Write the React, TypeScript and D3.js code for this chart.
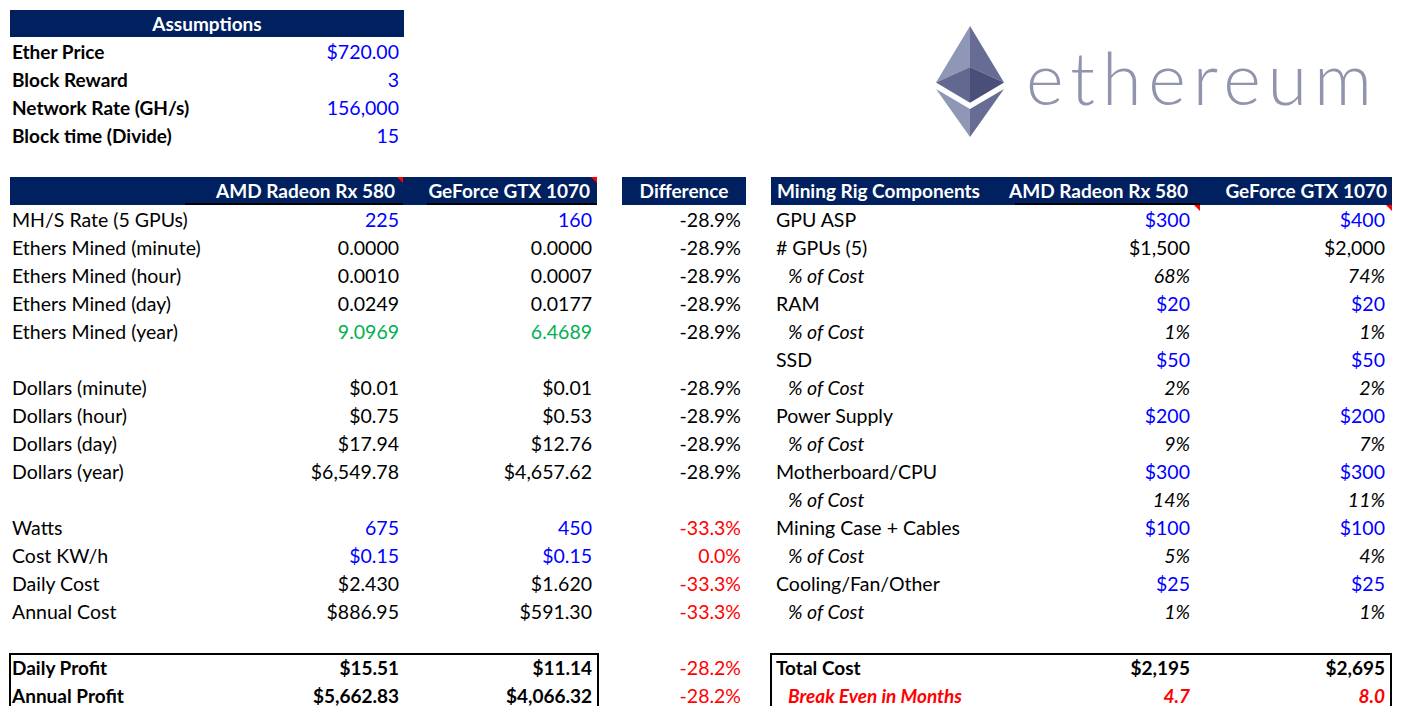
import React from "react";
import * as d3 from "d3";

const NAVY = "#002060";
const BLUE = "#0000FF";
const GREEN = "#00B050";
const RED = "#FF0000";
const BLACK = "#000000";
const WHITE = "#FFFFFF";

const assumptionLabels = ["Ether Price", "Block Reward", "Network Rate (GH/s)", "Block time (Divide)"];
const assumptionValues = ["$720.00", "3", "156,000", "15"];

const leftHeaders = ["AMD Radeon Rx 580", "GeForce GTX 1070"];
const leftLabels = [
  "MH/S Rate (5 GPUs)", "Ethers Mined (minute)", "Ethers Mined (hour)", "Ethers Mined (day)", "Ethers Mined (year)", "",
  "Dollars (minute)", "Dollars (hour)", "Dollars (day)", "Dollars (year)", "",
  "Watts", "Cost KW/h", "Daily Cost", "Annual Cost", "",
  "Daily Profit", "Annual Profit",
];
const amdValues = [
  "225", "0.0000", "0.0010", "0.0249", "9.0969", "",
  "$0.01", "$0.75", "$17.94", "$6,549.78", "",
  "675", "$0.15", "$2.430", "$886.95", "",
  "$15.51", "$5,662.83",
];
const gtxValues = [
  "160", "0.0000", "0.0007", "0.0177", "6.4689", "",
  "$0.01", "$0.53", "$12.76", "$4,657.62", "",
  "450", "$0.15", "$1.620", "$591.30", "",
  "$11.14", "$4,066.32",
];
const diffValues = [
  "-28.9%", "-28.9%", "-28.9%", "-28.9%", "-28.9%", "",
  "-28.9%", "-28.9%", "-28.9%", "-28.9%", "",
  "-33.3%", "0.0%", "-33.3%", "-33.3%", "",
  "-28.2%", "-28.2%",
];
// value kind per row: i = input (blue), o = output green, n = normal, b = bold
const leftKinds = ["i", "n", "n", "n", "o", "", "n", "n", "n", "n", "", "i", "i", "n", "n", "", "b", "b"];
const diffKinds = ["n", "n", "n", "n", "n", "", "n", "n", "n", "n", "", "r", "r", "r", "r", "", "r", "r"];

const rightHeaders = ["Mining Rig Components", "AMD Radeon Rx 580", "GeForce GTX 1070"];
const rightLabels = [
  "GPU ASP", "# GPUs (5)", "% of Cost", "RAM", "% of Cost", "SSD", "% of Cost",
  "Power Supply", "% of Cost", "Motherboard/CPU", "% of Cost", "Mining Case + Cables", "% of Cost",
  "Cooling/Fan/Other", "% of Cost", "", "Total Cost", "Break Even in Months",
];
const rightAmd = [
  "$300", "$1,500", "68%", "$20", "1%", "$50", "2%", "$200", "9%", "$300", "14%", "$100", "5%", "$25", "1%", "",
  "$2,195", "4.7",
];
const rightGtx = [
  "$400", "$2,000", "74%", "$20", "1%", "$50", "2%", "$200", "7%", "$300", "11%", "$100", "4%", "$25", "1%", "",
  "$2,695", "8.0",
];
// i = input blue, n = normal, p = italic pct, b = bold, e = break-even red bold italic
const rightKinds = ["i", "n", "p", "i", "p", "i", "p", "i", "p", "i", "p", "i", "p", "i", "p", "", "b", "e"];

const FONT = "Lato, 'Noto Sans', sans-serif";
const FS = 19.5;
const FSB = 19;

const rowY = d3.scaleLinear().domain([0, 1]).range([220, 248]);
const aY = d3.scaleLinear().domain([0, 1]).range([52, 80]);

function styleFor(kind: string) {
  switch (kind) {
    case "i": return { fill: BLUE, fontWeight: 400, fontStyle: "normal" };
    case "o": return { fill: GREEN, fontWeight: 400, fontStyle: "normal" };
    case "b": return { fill: BLACK, fontWeight: 700, fontStyle: "normal" };
    case "w": return { fill: WHITE, fontWeight: 700, fontStyle: "normal" };
    case "r": return { fill: RED, fontWeight: 400, fontStyle: "normal" };
    case "p": return { fill: BLACK, fontWeight: 400, fontStyle: "italic" };
    case "e": return { fill: RED, fontWeight: 700, fontStyle: "italic" };
    default: return { fill: BLACK, fontWeight: 400, fontStyle: "normal" };
  }
}

function Cell({ x, y, text, anchor = "start", kind = "n" }: any) {
  const s = styleFor(kind);
  const size = s.fontWeight === 700 ? FSB : FS;
  return (
    <text x={x} y={y} dy="0.38em" textAnchor={anchor} fill={s.fill} fontWeight={s.fontWeight}
      fontStyle={s.fontStyle} fontSize={size} fontFamily={FONT}>{text}</text>
  );
}

function Tri({ x, y }: any) {
  // small red comment marker at the top-right corner of a cell
  return <polygon points={`${x - 6},${y} ${x},${y} ${x},${y + 6}`} fill={RED} />;
}

function EthLogo() {
  const sx = d3.scaleLinear().domain([0, 256]).range([936, 1004]);
  const sy = d3.scaleLinear().domain([0, 417]).range([26, 137]);
  const polys: [number[][], string][] = [
    [[[128, 0], [0, 212], [128, 154]], "#8F97B6"],
    [[[128, 0], [256, 212], [128, 154]], "#666C93"],
    [[[0, 212], [128, 288], [128, 154]], "#62688F"],
    [[[256, 212], [128, 288], [128, 154]], "#4A4F7A"],
    [[[0, 237], [128, 417], [128, 312]], "#8F97B6"],
    [[[256, 237], [128, 417], [128, 312]], "#666C93"],
  ];
  return (
    <g>
      {polys.map(([pts, c], i) => (
        <polygon key={i} points={pts.map(([a, b]) => `${sx(a)},${sy(b)}`).join(" ")} fill={c} />
      ))}
      <text x={1026} y={105} fontFamily="Lato, 'Open Sans', sans-serif" fontWeight={300} fontSize={72}
        fill="#9094AD" textLength={346} lengthAdjust="spacing">ethereum</text>
    </g>
  );
}

export default function App() {
  const leftX = { label: 12, amd: 399, gtx: 592, diff: 741 };
  const rightX = { label: 776, indent: 788, amd: 1190, gtx: 1385 };
  return (
    <svg width={1401} height={706} style={{ position: "absolute", left: 0, top: 0, background: "#fff" }}>
      <rect x={0} y={0} width={1401} height={706} fill="#fff" />
      {/* Assumptions */}
      <rect x={10} y={10} width={394} height={27} fill={NAVY} />
      <Cell x={207} y={24} text="Assumptions" anchor="middle" kind="w" />
      <g>
        {assumptionLabels.map((l, i) => (
          <g key={l}>
            <Cell x={12} y={aY(i)} text={l} kind="b" />
            <Cell x={399} y={aY(i)} text={assumptionValues[i]} anchor="end" kind="i" />
          </g>
        ))}
      </g>

      <EthLogo />

      {/* Left table header */}
      <rect x={10} y={177} width={587} height={28} fill={NAVY} />
      <rect x={185} y={203} width={218} height={2} fill={BLACK} />
      <rect x={427} y={203} width={170} height={2} fill={BLACK} />
      <Tri x={403} y={177} />
      <Tri x={597} y={177} />
      <Cell x={395} y={191} text={leftHeaders[0]} anchor="end" kind="w" />
      <Cell x={590} y={191} text={leftHeaders[1]} anchor="end" kind="w" />

      {/* Difference header */}
      <rect x={622} y={177} width={124} height={28} fill={NAVY} />
      <Cell x={684} y={191} text="Difference" anchor="middle" kind="w" />

      {/* Right table header */}
      <rect x={771} y={177} width={621} height={28} fill={NAVY} />
      <rect x={1015} y={203} width={185} height={2} fill={BLACK} />
      <Tri x={1200} y={205} />
      <Tri x={1392} y={205} />
      <Cell x={777} y={191} text={rightHeaders[0]} kind="w" />
      <Cell x={1188} y={191} text={rightHeaders[1]} anchor="end" kind="w" />
      <Cell x={1387} y={191} text={rightHeaders[2]} anchor="end" kind="w" />

      {/* Left rows */}
      {leftLabels.map((l, i) => l === "" ? null : (
        <g key={"l" + i}>
          <Cell x={leftX.label} y={rowY(i)} text={l} kind={leftKinds[i] === "b" ? "b" : "n"} />
          <Cell x={leftX.amd} y={rowY(i)} text={amdValues[i]} anchor="end" kind={leftKinds[i]} />
          <Cell x={leftX.gtx} y={rowY(i)} text={gtxValues[i]} anchor="end" kind={leftKinds[i]} />
          <Cell x={leftX.diff} y={rowY(i)} text={diffValues[i]} anchor="end" kind={diffKinds[i]} />
        </g>
      ))}

      {/* Right rows */}
      {rightLabels.map((l, i) => l === "" ? null : (
        <g key={"r" + i}>
          <Cell x={rightKinds[i] === "p" || rightKinds[i] === "e" ? rightX.indent : rightX.label} y={rowY(i)} text={l}
            kind={rightKinds[i] === "p" ? "p" : rightKinds[i] === "b" ? "b" : rightKinds[i] === "e" ? "e" : "n"} />
          <Cell x={rightX.amd} y={rowY(i)} text={rightAmd[i]} anchor="end" kind={rightKinds[i]} />
          <Cell x={rightX.gtx} y={rowY(i)} text={rightGtx[i]} anchor="end" kind={rightKinds[i]} />
        </g>
      ))}

      {/* Summary boxes */}
      <rect x={10} y={654} width={588} height={60} fill="none" stroke={BLACK} strokeWidth={2} />
      <rect x={771} y={654} width={620} height={60} fill="none" stroke={BLACK} strokeWidth={2} />
    </svg>
  );
}
